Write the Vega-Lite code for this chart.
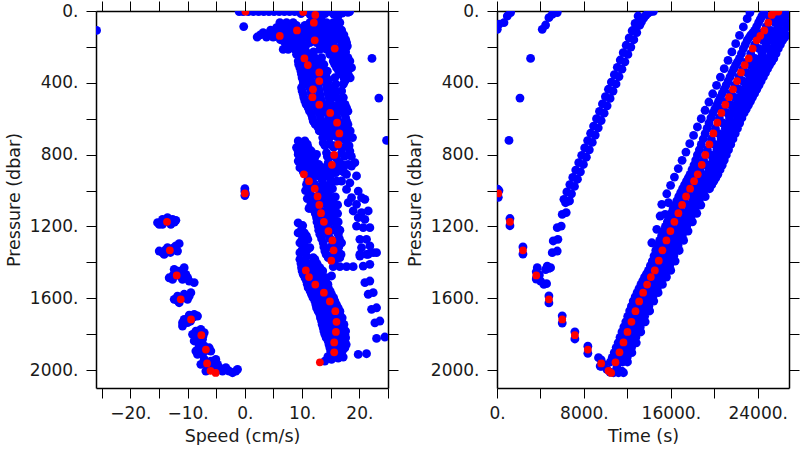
{
"$schema": "https://vega.github.io/schema/vega-lite/v6.json",
"background": "white",
"padding": {"left": 5, "top": 0, "right": 0, "bottom": 0},
"spacing": 109,
"bounds": "flush",
"config": {
 "view": {"stroke": null},
 "axis": {"grid": false, "domainColor": "black", "domainWidth": 1.5, "tickColor": "black", "tickWidth": 1, "tickSize": 10,
  "labelFont": "DejaVu Sans", "labelFontSize": 17, "labelColor": "#1a1a1a", "titleFont": "DejaVu Sans", "titleFontSize": 17.5,
  "titleFontWeight": "normal", "titleColor": "#1a1a1a", "labelFlush": false, "labelOverlap": false, "labelBound": false}
},
"datasets": {
 "red": [
  {"p":1016,"s":0,"t":120},{"p":1174,"s":-13.6,"t":1192},{"p":1333,"s":-13.1,"t":2388},{"p":1473,"s":-11.9,"t":3614},
  {"p":1606,"s":-11.2,"t":4778},{"p":1718,"s":-9.4,"t":6004},{"p":1806,"s":-7.6,"t":7169},{"p":1886,"s":-6.8,"t":8364},
  {"p":1963,"s":-6.6,"t":9590},{"p":2004,"s":-6.0,"t":10264},{"p":2016,"s":-5.1,"t":10509},
  {"p":1957,"s":13.1,"t":10907},{"p":1901,"s":15.6,"t":11275},{"p":1846,"s":15.6,"t":11643},{"p":1788,"s":15.9,"t":12011},
  {"p":1731,"s":16.0,"t":12378},{"p":1672,"s":15.8,"t":12746},{"p":1618,"s":14.85,"t":13085},{"p":1569,"s":13.8,"t":13452},
  {"p":1524,"s":12.3,"t":13820},{"p":1482,"s":11.2,"t":14160},{"p":1445,"s":10.65,"t":14528},{"p":1391,"s":15.1,"t":14896},
  {"p":1333,"s":15.5,"t":15227},{"p":1278,"s":15.3,"t":15595},{"p":1226,"s":14.6,"t":15963},{"p":1174,"s":13.8,"t":16330},
  {"p":1126,"s":13.3,"t":16698},{"p":1080,"s":13.0,"t":17038},{"p":1033,"s":12.7,"t":17406},{"p":990,"s":12.2,"t":17774},
  {"p":948,"s":11.2,"t":18142},{"p":910,"s":10.3,"t":18482},{"p":857,"s":15.2,"t":18850},{"p":802,"s":15.6,"t":19182},
  {"p":743,"s":16.3,"t":19550},{"p":682,"s":16.5,"t":19918},{"p":622,"s":16.1,"t":20285},{"p":568,"s":14.9,"t":20653},
  {"p":522,"s":13.0,"t":21021},{"p":480,"s":11.8,"t":21361},{"p":436,"s":11.9,"t":21729},{"p":390,"s":13.0,"t":22096},
  {"p":342,"s":13.0,"t":22464},{"p":301,"s":11.0,"t":22804},{"p":264,"s":10.4,"t":23172},{"p":209,"s":15.7,"t":23540},
  {"p":163,"s":12.2,"t":23907},{"p":139,"s":6.1,"t":24238},{"p":108,"s":9.1,"t":24606},{"p":65,"s":12.05,"t":24974},
  {"p":22,"s":12.3,"t":25286},{"p":5,"s":10.2,"t":25525},{"p":3,"s":0.1,"t":25900}
 ],
 "blueL": [
  {"s":-1.0,"p":3},{"s":-0.3,"p":3},{"s":0.6,"p":3},{"s":1.5,"p":3},{"s":2.4,"p":3},{"s":3.3,"p":3},{"s":4.2,"p":3},{"s":5.1,"p":3},
  {"s":6.0,"p":3},{"s":6.9,"p":3},{"s":7.8,"p":3},{"s":8.7,"p":3},{"s":9.6,"p":3},{"s":10.5,"p":3},{"s":11.4,"p":3},{"s":12.3,"p":3},
  {"s":13.2,"p":3},{"s":14.1,"p":3},{"s":15.0,"p":3},{"s":15.9,"p":3},{"s":16.8,"p":3},{"s":17.6,"p":3},{"s":18.3,"p":3},
  {"s":11.4,"p":20},{"s":12.8,"p":25},{"s":11.9,"p":42},{"s":14.0,"p":15},{"s":15.5,"p":18},{"s":17.0,"p":12},{"s":18.0,"p":8},
  {"s":13.3,"p":40},{"s":16.2,"p":35},{"s":9.8,"p":15},
  {"s":-0.2,"p":87},{"s":-25.9,"p":108},{"s":22.2,"p":264},{"s":23.4,"p":485},{"s":24.75,"p":721},
  {"s":0,"p":990},{"s":0,"p":1005},{"s":0,"p":1028},{"s":0.1,"p":1018},
  {"s":6.11,"p":65},{"s":7.28,"p":65},{"s":8.44,"p":65},{"s":11.35,"p":65},{"s":12.52,"p":65},{"s":14.26,"p":65},{"s":15.43,"p":65},{"s":16.59,"p":65},
  {"s":5.53,"p":93},{"s":6.70,"p":93},{"s":7.86,"p":93},{"s":9.02,"p":93},{"s":10.19,"p":93},{"s":11.35,"p":93},{"s":12.81,"p":93},{"s":13.97,"p":93},{"s":14.85,"p":93},{"s":16.01,"p":93},
  {"s":3.2,"p":121},{"s":4.37,"p":121},{"s":5.82,"p":121},{"s":6.99,"p":121},{"s":8.15,"p":121},{"s":9.32,"p":121},{"s":10.48,"p":121},{"s":11.94,"p":121},{"s":13.10,"p":121},{"s":14.26,"p":121},{"s":15.14,"p":121},{"s":16.59,"p":121},
  {"s":2.15,"p":145},{"s":3.78,"p":145},{"s":4.95,"p":145},{"s":6.70,"p":145},{"s":7.86,"p":145},{"s":9.02,"p":145},{"s":10.77,"p":145},{"s":11.94,"p":145},{"s":13.39,"p":145},{"s":14.85,"p":145},{"s":16.01,"p":145},{"s":17.18,"p":145},
  {"s":6.99,"p":176},{"s":8.15,"p":176},{"s":9.32,"p":176},{"s":11.35,"p":176},{"s":12.52,"p":176},{"s":14.26,"p":176},{"s":15.43,"p":176},{"s":16.89,"p":176},{"s":17.76,"p":176},
  {"s":6.70,"p":214},{"s":7.57,"p":214},{"s":8.73,"p":214},{"s":9.90,"p":214},{"s":13.10,"p":214},{"s":14.26,"p":214},{"s":16.01,"p":214},{"s":17.47,"p":214},
  {"s":9.02,"p":241},{"s":10.19,"p":241},{"s":11.35,"p":241},{"s":14.85,"p":241},{"s":16.01,"p":241},{"s":17.18,"p":241},
  {"s":9.32,"p":279},{"s":10.48,"p":279},{"s":11.64,"p":279},{"s":12.81,"p":279},{"s":15.43,"p":279},{"s":16.59,"p":279},{"s":17.76,"p":279},{"s":18.34,"p":279},
  {"s":9.61,"p":316},{"s":10.77,"p":316},{"s":12.23,"p":316},{"s":13.39,"p":316},{"s":16.01,"p":316},{"s":17.47,"p":316},{"s":18.63,"p":316},
  {"s":9.90,"p":353},{"s":11.06,"p":353},{"s":12.52,"p":353},{"s":13.97,"p":353},{"s":16.89,"p":353},{"s":18.05,"p":353},
  {"s":10.19,"p":390},{"s":11.64,"p":390},{"s":13.10,"p":390},{"s":14.56,"p":390},{"s":17.47,"p":390},
  {"s":9.90,"p":427},{"s":11.35,"p":427},{"s":12.81,"p":427},{"s":14.26,"p":427},{"s":15.43,"p":427},
  {"s":10.19,"p":464},{"s":11.64,"p":464},{"s":13.10,"p":464},{"s":14.56,"p":464},{"s":15.72,"p":464},
  {"s":10.48,"p":501},{"s":11.94,"p":501},{"s":13.39,"p":501},{"s":14.85,"p":501},{"s":16.59,"p":501},
  {"s":11.06,"p":539},{"s":12.52,"p":539},{"s":13.97,"p":539},{"s":15.43,"p":539},{"s":16.59,"p":539},{"s":17.76,"p":539},
  {"s":11.64,"p":576},{"s":13.10,"p":576},{"s":14.56,"p":576},{"s":16.01,"p":576},{"s":17.47,"p":576},
  {"s":11.94,"p":613},{"s":13.39,"p":613},{"s":14.85,"p":613},{"s":16.30,"p":613},{"s":17.76,"p":613},
  {"s":12.81,"p":650},{"s":14.26,"p":650},{"s":15.72,"p":650},{"s":17.18,"p":650},
  {"s":6.7,"p":80},{"s":7.9,"p":80},{"s":9.0,"p":80},{"s":10.5,"p":80},{"s":11.9,"p":80},{"s":13.4,"p":80},{"s":14.8,"p":80},{"s":16.0,"p":80},
  {"s":4.5,"p":107},{"s":6.1,"p":107},{"s":7.3,"p":107},{"s":8.5,"p":107},{"s":9.6,"p":107},{"s":10.8,"p":107},{"s":12.1,"p":107},{"s":13.4,"p":107},{"s":14.5,"p":107},{"s":15.6,"p":107},{"s":16.9,"p":107},
  {"s":2.7,"p":133},{"s":4.0,"p":133},{"s":5.3,"p":133},{"s":6.4,"p":133},{"s":7.5,"p":133},{"s":8.7,"p":133},{"s":9.9,"p":133},{"s":11.2,"p":133},{"s":12.5,"p":133},{"s":13.7,"p":133},{"s":14.8,"p":133},{"s":16.0,"p":133},{"s":17.3,"p":133},
  {"s":6.2,"p":160},{"s":7.4,"p":160},{"s":8.6,"p":160},{"s":10.0,"p":160},{"s":11.6,"p":160},{"s":13.0,"p":160},{"s":14.0,"p":160},{"s":15.5,"p":160},{"s":16.6,"p":160},{"s":17.6,"p":160},
  {"s":7.3,"p":195},{"s":8.2,"p":195},{"s":9.5,"p":195},{"s":10.6,"p":195},{"s":13.5,"p":195},{"s":15.0,"p":195},{"s":16.8,"p":195},{"s":17.9,"p":195},
  {"s":9.5,"p":228},{"s":10.7,"p":228},{"s":12.0,"p":228},{"s":15.3,"p":228},{"s":16.6,"p":228},{"s":17.6,"p":228},
  {"s":9.6,"p":260},{"s":10.9,"p":260},{"s":12.2,"p":260},{"s":13.4,"p":260},{"s":15.9,"p":260},{"s":17.0,"p":260},{"s":18.0,"p":260},
  {"s":9.4,"p":298},{"s":11.1,"p":298},{"s":12.6,"p":298},{"s":13.8,"p":298},{"s":15.7,"p":298},{"s":16.9,"p":298},{"s":18.1,"p":298},
  {"s":9.8,"p":335},{"s":11.4,"p":335},{"s":12.9,"p":335},{"s":14.4,"p":335},{"s":16.4,"p":335},{"s":17.8,"p":335},
  {"s":10.0,"p":372},{"s":11.3,"p":372},{"s":12.9,"p":372},{"s":14.3,"p":372},{"s":15.7,"p":372},{"s":17.3,"p":372},{"s":18.4,"p":372},
  {"s":10.2,"p":408},{"s":11.5,"p":408},{"s":12.9,"p":408},{"s":14.4,"p":408},{"s":15.9,"p":408},{"s":17.2,"p":408},
  {"s":10.0,"p":445},{"s":11.5,"p":445},{"s":13.0,"p":445},{"s":14.5,"p":445},{"s":15.8,"p":445},{"s":16.9,"p":445},
  {"s":10.3,"p":482},{"s":11.8,"p":482},{"s":13.2,"p":482},{"s":14.7,"p":482},{"s":16.1,"p":482},{"s":17.2,"p":482},
  {"s":10.7,"p":520},{"s":12.2,"p":520},{"s":13.7,"p":520},{"s":15.1,"p":520},{"s":16.4,"p":520},{"s":17.5,"p":520},
  {"s":11.3,"p":558},{"s":12.8,"p":558},{"s":14.2,"p":558},{"s":15.7,"p":558},{"s":17.0,"p":558},{"s":18.0,"p":558},
  {"s":11.8,"p":595},{"s":13.2,"p":595},{"s":14.7,"p":595},{"s":16.1,"p":595},{"s":17.6,"p":595},
  {"s":12.3,"p":632},{"s":13.8,"p":632},{"s":15.3,"p":632},{"s":16.8,"p":632},{"s":18.0,"p":632},
  {"s":13.0,"p":668},{"s":14.4,"p":668},{"s":15.9,"p":668},{"s":17.4,"p":668},{"s":18.4,"p":668},
  {"s":13.6,"p":705},{"s":14.8,"p":705},{"s":16.6,"p":705},{"s":17.8,"p":705},{"s":18.8,"p":705},
  {"s":14.0,"p":750},{"s":15.6,"p":750},{"s":16.4,"p":750},{"s":18.2,"p":750},
  {"s":14.4,"p":810},{"s":15.0,"p":810},{"s":17.4,"p":810},{"s":18.6,"p":810},
  {"s":15.0,"p":860},{"s":16.0,"p":860},{"s":17.4,"p":860},{"s":15.9,"p":900},{"s":17.4,"p":900},
  {"s":13.68,"p":622},{"s":14.85,"p":631},{"s":17.47,"p":631},{"s":13.97,"p":678},{"s":15.14,"p":687},{"s":17.76,"p":687},
  {"s":13.68,"p":734},{"s":14.85,"p":743},{"s":17.76,"p":734},{"s":14.26,"p":790},{"s":16.89,"p":790},{"s":18.34,"p":780},
  {"s":14.56,"p":845},{"s":16.59,"p":845},{"s":18.05,"p":854},{"s":15.43,"p":891},{"s":16.89,"p":891},
  {"s":16.0,"p":700},{"s":15.5,"p":760},{"s":16.0,"p":820},{"s":15.6,"p":880},{"s":15.2,"p":905},{"s":17.3,"p":712},{"s":17.0,"p":765},
  {"s":18.63,"p":864},{"s":19.21,"p":845},{"s":17.76,"p":910},{"s":19.5,"p":919},{"s":16.01,"p":947},{"s":16.89,"p":947},{"s":18.34,"p":957},
  {"s":17.76,"p":994},{"s":19.8,"p":1003},{"s":18.63,"p":1040},{"s":20.38,"p":1040},{"s":18.05,"p":1068},{"s":19.5,"p":1077},{"s":20.96,"p":1049},
  {"s":18.92,"p":1114},{"s":20.38,"p":1123},{"s":21.54,"p":1114},{"s":19.8,"p":1151},{"s":20.96,"p":1161},{"s":19.5,"p":1198},{"s":20.67,"p":1207},
  {"s":21.83,"p":1207},{"s":20.09,"p":1272},{"s":21.25,"p":1272},{"s":20.38,"p":1318},{"s":21.83,"p":1309},{"s":20.09,"p":1355},{"s":21.54,"p":1355},{"s":23.0,"p":1346},
  {"s":9.32,"p":724},{"s":10.48,"p":724},{"s":9.02,"p":761},{"s":10.19,"p":761},{"s":11.06,"p":761},
  {"s":9.32,"p":799},{"s":10.48,"p":799},{"s":11.64,"p":799},{"s":12.52,"p":799},{"s":9.32,"p":836},{"s":10.77,"p":836},{"s":11.94,"p":836},
  {"s":9.61,"p":873},{"s":11.06,"p":873},{"s":12.52,"p":873},{"s":13.68,"p":873},{"s":11.35,"p":919},{"s":12.81,"p":919},{"s":14.26,"p":919},
  {"s":10.77,"p":966},{"s":12.23,"p":966},{"s":13.68,"p":966},{"s":14.85,"p":966},{"s":10.6,"p":1000},{"s":11.35,"p":1012},{"s":13.10,"p":1012},{"s":14.56,"p":1012},
  {"s":10.9,"p":1045},{"s":11.64,"p":1058},{"s":12.8,"p":1058},{"s":13.97,"p":1058},{"s":15.14,"p":1058},{"s":11.2,"p":1100},{"s":11.94,"p":1105},{"s":13.10,"p":1105},{"s":14.56,"p":1105},{"s":15.72,"p":1105},
  {"s":12.52,"p":1151},{"s":13.97,"p":1151},{"s":15.43,"p":1151},{"s":12.81,"p":1198},{"s":14.26,"p":1198},{"s":16.01,"p":1198},
  {"s":13.10,"p":1244},{"s":14.56,"p":1244},{"s":16.30,"p":1244},{"s":13.68,"p":1291},{"s":16.01,"p":1291},{"s":16.89,"p":1291},
  {"s":13.97,"p":1337},{"s":16.30,"p":1337},{"s":14.56,"p":1374},{"s":16.59,"p":1374},
  {"s":9.6,"p":742},{"s":10.9,"p":742},{"s":9.3,"p":780},{"s":10.6,"p":780},{"s":11.6,"p":780},{"s":9.8,"p":818},{"s":11.2,"p":818},{"s":12.2,"p":818},
  {"s":10.2,"p":855},{"s":11.5,"p":855},{"s":12.9,"p":855},{"s":10.2,"p":896},{"s":11.8,"p":896},{"s":13.4,"p":896},{"s":14.4,"p":896},
  {"s":11.0,"p":942},{"s":11.8,"p":942},{"s":13.5,"p":942},{"s":15.0,"p":942},{"s":11.5,"p":990},{"s":12.8,"p":990},{"s":14.2,"p":990},{"s":15.3,"p":990},
  {"s":11.9,"p":1035},{"s":13.5,"p":1035},{"s":14.9,"p":1035},{"s":15.8,"p":1035},{"s":11.5,"p":1080},{"s":12.4,"p":1080},{"s":14.3,"p":1080},{"s":15.5,"p":1080},{"s":16.2,"p":1080},
  {"s":12.3,"p":1128},{"s":13.5,"p":1128},{"s":14.9,"p":1128},{"s":16.2,"p":1128},{"s":12.6,"p":1175},{"s":13.7,"p":1175},{"s":15.0,"p":1175},{"s":16.3,"p":1175},
  {"s":12.9,"p":1221},{"s":13.7,"p":1221},{"s":15.3,"p":1221},{"s":16.6,"p":1221},{"s":13.4,"p":1268},{"s":14.9,"p":1268},{"s":16.5,"p":1268},
  {"s":13.8,"p":1314},{"s":15.0,"p":1314},{"s":16.4,"p":1314},{"s":14.2,"p":1356},{"s":15.5,"p":1356},{"s":16.8,"p":1356},
  {"s":9.90,"p":1216},{"s":10.77,"p":1253},{"s":9.61,"p":1291},{"s":10.48,"p":1309},{"s":11.35,"p":1318},{"s":9.61,"p":1346},{"s":10.77,"p":1365},
  {"s":11.94,"p":1374},{"s":10.19,"p":1402},{"s":11.35,"p":1411},{"s":12.52,"p":1421},{"s":9.3,"p":1180},{"s":10.1,"p":1195},
  {"s":9.3,"p":1236},{"s":10.4,"p":1236},{"s":10.0,"p":1272},{"s":11.0,"p":1272},{"s":10.0,"p":1330},{"s":10.9,"p":1330},
  {"s":9.61,"p":1383},{"s":12.23,"p":1383},{"s":9.90,"p":1430},{"s":11.64,"p":1430},{"s":13.10,"p":1430},
  {"s":10.19,"p":1467},{"s":12.23,"p":1467},{"s":13.39,"p":1467},{"s":10.77,"p":1504},{"s":12.52,"p":1504},{"s":13.97,"p":1504},
  {"s":11.06,"p":1541},{"s":13.10,"p":1541},{"s":14.56,"p":1541},{"s":11.64,"p":1578},{"s":13.39,"p":1578},{"s":15.14,"p":1578},
  {"s":12.23,"p":1616},{"s":13.97,"p":1616},{"s":15.72,"p":1616},{"s":12.52,"p":1653},{"s":14.56,"p":1653},{"s":16.30,"p":1653},
  {"s":13.10,"p":1690},{"s":14.85,"p":1690},{"s":16.59,"p":1690},{"s":13.39,"p":1727},{"s":15.14,"p":1727},{"s":16.89,"p":1727},
  {"s":13.68,"p":1764},{"s":15.43,"p":1764},{"s":17.18,"p":1764},{"s":13.97,"p":1801},{"s":15.72,"p":1801},{"s":17.47,"p":1801},
  {"s":14.56,"p":1839},{"s":16.01,"p":1839},{"s":17.47,"p":1839},{"s":14.85,"p":1876},{"s":16.30,"p":1876},{"s":17.47,"p":1876},
  {"s":15.14,"p":1913},{"s":16.89,"p":1913},{"s":13.97,"p":1950},{"s":15.14,"p":1941},{"s":16.30,"p":1934},{"s":17.18,"p":1928},
  {"s":9.8,"p":1407},{"s":11.0,"p":1407},{"s":12.6,"p":1407},{"s":10.0,"p":1448},{"s":11.0,"p":1448},{"s":12.6,"p":1448},{"s":13.6,"p":1448},
  {"s":10.5,"p":1486},{"s":11.6,"p":1486},{"s":12.9,"p":1486},{"s":14.2,"p":1486},{"s":10.9,"p":1522},{"s":11.9,"p":1522},{"s":13.5,"p":1522},{"s":14.5,"p":1522},
  {"s":11.4,"p":1560},{"s":12.3,"p":1560},{"s":13.9,"p":1560},{"s":14.9,"p":1560},{"s":11.9,"p":1597},{"s":12.9,"p":1597},{"s":14.6,"p":1597},{"s":15.5,"p":1597},
  {"s":12.4,"p":1635},{"s":13.3,"p":1635},{"s":15.2,"p":1635},{"s":16.0,"p":1635},{"s":12.8,"p":1672},{"s":13.8,"p":1672},{"s":15.6,"p":1672},{"s":16.6,"p":1672},
  {"s":13.2,"p":1709},{"s":14.2,"p":1709},{"s":16.0,"p":1709},{"s":17.0,"p":1709},{"s":13.5,"p":1746},{"s":14.6,"p":1746},{"s":16.3,"p":1746},{"s":17.3,"p":1746},
  {"s":13.8,"p":1783},{"s":14.8,"p":1783},{"s":16.6,"p":1783},{"s":17.6,"p":1783},{"s":14.2,"p":1820},{"s":15.0,"p":1820},{"s":16.8,"p":1820},{"s":17.6,"p":1820},
  {"s":14.7,"p":1858},{"s":15.5,"p":1858},{"s":16.9,"p":1858},{"s":17.7,"p":1858},{"s":15.0,"p":1895},{"s":16.0,"p":1895},{"s":17.0,"p":1895},
  {"s":14.5,"p":1925},{"s":15.7,"p":1925},{"s":16.5,"p":1925},
  {"s":14.56,"p":1365},{"s":16.30,"p":1374},{"s":15.72,"p":1411},{"s":15.43,"p":1424},{"s":16.59,"p":1424},{"s":17.76,"p":1424},{"s":18.92,"p":1424},{"s":15.14,"p":1476},
  {"s":20.09,"p":1365},{"s":21.25,"p":1356},{"s":22.42,"p":1346},{"s":20.67,"p":1421},{"s":21.83,"p":1411},{"s":20.96,"p":1513},{"s":21.83,"p":1504},
  {"s":21.54,"p":1578},{"s":22.42,"p":1569},{"s":22.13,"p":1662},{"s":23.0,"p":1653},{"s":22.71,"p":1737},{"s":23.58,"p":1727},
  {"s":23.0,"p":1824},{"s":24.45,"p":1816},{"s":19.8,"p":1913},{"s":21.25,"p":1909},
  {"s":-14.96,"p":1188},{"s":-14.38,"p":1161},{"s":-13.51,"p":1151},{"s":-12.63,"p":1161},{"s":-12.05,"p":1166},{"s":-14.38,"p":1188},{"s":-12.93,"p":1188},{"s":-15.25,"p":1179},
  {"s":-13.0,"p":1170},{"s":-14.0,"p":1175},{"s":-12.3,"p":1176},
  {"s":-14.96,"p":1337},{"s":-14.38,"p":1346},{"s":-13.51,"p":1318},{"s":-12.63,"p":1328},{"s":-12.05,"p":1309},{"s":-11.47,"p":1296},{"s":-11.76,"p":1337},{"s":-14.09,"p":1356},
  {"s":-13.9,"p":1332},{"s":-12.4,"p":1318},{"s":-13.0,"p":1345},
  {"s":-13.22,"p":1486},{"s":-12.34,"p":1439},{"s":-11.47,"p":1449},{"s":-10.60,"p":1430},{"s":-10.31,"p":1467},{"s":-10.89,"p":1495},{"s":-9.72,"p":1504},{"s":-8.85,"p":1513},{"s":-12.63,"p":1495},
  {"s":-12.0,"p":1460},{"s":-11.2,"p":1480},{"s":-10.0,"p":1485},{"s":-12.5,"p":1470},
  {"s":-12.34,"p":1606},{"s":-11.76,"p":1588},{"s":-10.60,"p":1578},{"s":-9.72,"p":1588},{"s":-10.01,"p":1606},{"s":-11.47,"p":1625},{"s":-9.43,"p":1569},
  {"s":-11.0,"p":1598},{"s":-10.2,"p":1595},{"s":-11.8,"p":1612},
  {"s":-10.89,"p":1736},{"s":-10.60,"p":1718},{"s":-9.72,"p":1694},{"s":-8.85,"p":1690},{"s":-8.27,"p":1699},{"s":-10.01,"p":1736},{"s":-10.89,"p":1755},
  {"s":-9.9,"p":1712},{"s":-9.0,"p":1705},{"s":-9.5,"p":1728},
  {"s":-9.14,"p":1801},{"s":-8.56,"p":1783},{"s":-7.69,"p":1773},{"s":-7.10,"p":1792},{"s":-8.56,"p":1829},{"s":-8.85,"p":1838},{"s":-7.39,"p":1829},
  {"s":-8.0,"p":1800},{"s":-7.3,"p":1810},{"s":-8.3,"p":1815},
  {"s":-8.56,"p":1894},{"s":-7.98,"p":1866},{"s":-7.10,"p":1866},{"s":-6.23,"p":1876},{"s":-5.94,"p":1894},{"s":-8.27,"p":1913},{"s":-7.39,"p":1913},
  {"s":-7.2,"p":1885},{"s":-6.5,"p":1890},{"s":-7.7,"p":1897},
  {"s":-7.69,"p":1968},{"s":-7.10,"p":1941},{"s":-5.94,"p":1950},{"s":-5.07,"p":1941},{"s":-4.77,"p":1968},{"s":-4.48,"p":1987},{"s":-3.32,"p":1987},
  {"s":-2.74,"p":2006},{"s":-1.57,"p":2006},{"s":-1.28,"p":1996},{"s":-6.23,"p":1996},{"s":-5.07,"p":2006},{"s":-3.90,"p":2006},{"s":-2.15,"p":2015},{"s":-6.81,"p":2006},
  {"s":-6.5,"p":1975},{"s":-5.5,"p":1985},{"s":-4.0,"p":1998},{"s":-3.0,"p":2000}
 ],
 "blueR": [
  {"t":28,"p":102},{"t":181,"p":74},{"t":641,"p":65},{"t":947,"p":28},{"t":1254,"p":9},{"t":4165,"p":102},{"t":4472,"p":78},{"t":4778,"p":37},
  {"t":5085,"p":19},{"t":5545,"p":9},{"t":3092,"p":264},{"t":2115,"p":485},{"t":1103,"p":721},
  {"t":60,"p":992},{"t":180,"p":1000},{"t":120,"p":1038},{"t":1192,"p":1156},{"t":1192,"p":1196},{"t":2388,"p":1314},{"t":2388,"p":1354},
  {"t":3614,"p":1453},{"t":3614,"p":1493},{"t":4778,"p":1587},{"t":4778,"p":1626},{"t":6004,"p":1698},{"t":6004,"p":1738},
  {"t":7169,"p":1787},{"t":7169,"p":1827},{"t":8364,"p":1867},{"t":8364,"p":1907},{"t":9590,"p":1944},{"t":9590,"p":1980},
  {"t":3706,"p":1430},{"t":3644,"p":1486},{"t":4012,"p":1504},{"t":4319,"p":1523},{"t":4564,"p":1519},{"t":4778,"p":1434},{"t":4472,"p":1440},{"t":3900,"p":1470},
  {"t":4625,"p":1421},{"t":4932,"p":1430},{"t":5085,"p":1346},{"t":5545,"p":1337},{"t":5177,"p":1281},{"t":5606,"p":1272},
  {"t":5545,"p":1207},{"t":5913,"p":1198},{"t":6004,"p":1133},{"t":6372,"p":1123},{"t":6311,"p":1068},{"t":6678,"p":1058},
  {"t":6158,"p":1049},{"t":6430,"p":1008},{"t":6703,"p":967},{"t":6976,"p":927},{"t":7249,"p":886},{"t":7525,"p":845},{"t":7797,"p":804},
  {"t":8070,"p":763},{"t":8343,"p":722},{"t":8616,"p":681},{"t":8889,"p":641},{"t":9161,"p":600},{"t":9434,"p":559},{"t":9707,"p":518},
  {"t":9980,"p":477},{"t":10256,"p":436},{"t":10528,"p":396},{"t":10801,"p":355},{"t":11074,"p":314},{"t":11347,"p":273},{"t":11620,"p":232},
  {"t":11892,"p":191},{"t":12165,"p":150},{"t":12438,"p":110},{"t":12711,"p":69},{"t":12987,"p":28},
  {"t":6588,"p":1059},{"t":6860,"p":1018},{"t":7133,"p":977},{"t":7406,"p":937},{"t":7679,"p":896},{"t":7955,"p":855},{"t":8227,"p":814},
  {"t":8500,"p":773},{"t":8773,"p":732},{"t":9046,"p":691},{"t":9319,"p":651},{"t":9591,"p":610},{"t":9864,"p":569},{"t":10137,"p":528},
  {"t":10410,"p":487},{"t":10686,"p":446},{"t":10958,"p":406},{"t":11231,"p":365},{"t":11504,"p":324},{"t":11777,"p":283},{"t":12050,"p":242},
  {"t":12322,"p":201},{"t":12595,"p":160},{"t":12868,"p":120},{"t":13141,"p":79},{"t":13417,"p":38},
  {"t":13300,"p":60},{"t":13500,"p":40},{"t":13700,"p":25},{"t":13900,"p":12},{"t":14150,"p":4},{"t":14400,"p":2},{"t":12700,"p":100},{"t":13050,"p":80},
  {"t":9345,"p":1931},{"t":9498,"p":1978},{"t":9805,"p":1968},{"t":10111,"p":1996},{"t":10724,"p":2015},{"t":11184,"p":2015},{"t":11490,"p":2006},
  {"t":11644,"p":2015},{"t":11031,"p":1987},{"t":10400,"p":2012},
  {"t":15629,"p":1018},{"t":15981,"p":971},{"t":16333,"p":925},{"t":16686,"p":878},{"t":17038,"p":832},{"t":17391,"p":786},{"t":17743,"p":739},
  {"t":18096,"p":693},{"t":18448,"p":646},{"t":18801,"p":600},{"t":19153,"p":553},{"t":19506,"p":507},{"t":19858,"p":461},{"t":20210,"p":414},
  {"t":20563,"p":368},{"t":20915,"p":321},{"t":21268,"p":275},{"t":21620,"p":228},{"t":21973,"p":182},{"t":22325,"p":136},{"t":22678,"p":89},
  {"t":23030,"p":43},{"t":23285,"p":9},
  {"t":15781,"p":1068},{"t":15168,"p":1077},{"t":15475,"p":1133},{"t":15015,"p":1142},{"t":14709,"p":1216},{"t":14249,"p":1291},
  {"t":10437,"p":1955},{"t":11238,"p":1955},{"t":11568,"p":1955},{"t":12009,"p":1955},
  {"t":10793,"p":1903},{"t":11617,"p":1903},{"t":11958,"p":1903},{"t":12414,"p":1903},
  {"t":11149,"p":1848},{"t":11997,"p":1848},{"t":12350,"p":1848},{"t":12822,"p":1848},
  {"t":11503,"p":1788},{"t":12378,"p":1788},{"t":12744,"p":1788},{"t":13233,"p":1788},
  {"t":11857,"p":1731},{"t":12757,"p":1731},{"t":13135,"p":1731},{"t":13640,"p":1731},
  {"t":12212,"p":1671},{"t":13138,"p":1671},{"t":13529,"p":1671},{"t":14051,"p":1671},
  {"t":12539,"p":1616},{"t":13489,"p":1616},{"t":13892,"p":1616},{"t":14430,"p":1616},
  {"t":12895,"p":1569},{"t":13865,"p":1569},{"t":14279,"p":1569},{"t":14830,"p":1569},
  {"t":13253,"p":1523},{"t":14243,"p":1523},{"t":14667,"p":1523},{"t":15231,"p":1523},
  {"t":13583,"p":1482},{"t":14592,"p":1482},{"t":15024,"p":1482},{"t":15600,"p":1482},
  {"t":13943,"p":1445},{"t":14968,"p":1445},{"t":15408,"p":1445},{"t":15995,"p":1445},
  {"t":14299,"p":1393},{"t":15347,"p":1393},{"t":15798,"p":1393},{"t":16400,"p":1393},
  {"t":14617,"p":1334},{"t":15691,"p":1334},{"t":16155,"p":1334},{"t":16773,"p":1334},
  {"t":14973,"p":1278},{"t":16071,"p":1278},{"t":16547,"p":1278},{"t":17181,"p":1278},
  {"t":15329,"p":1226},{"t":16450,"p":1226},{"t":16937,"p":1226},{"t":17586,"p":1226},
  {"t":15684,"p":1174},{"t":16828,"p":1174},{"t":17327,"p":1174},{"t":17991,"p":1174},
  {"t":16042,"p":1127},{"t":17206,"p":1127},{"t":17714,"p":1127},{"t":18392,"p":1127},
  {"t":16371,"p":1081},{"t":17556,"p":1081},{"t":18074,"p":1081},{"t":18765,"p":1081},
  {"t":16729,"p":1034},{"t":17934,"p":1034},{"t":18463,"p":1034},{"t":19167,"p":1034},
  {"t":17087,"p":990},{"t":18222,"p":990},{"t":18670,"p":990},{"t":19118,"p":990},{"t":19566,"p":990},
  {"t":17445,"p":947},{"t":18598,"p":947},{"t":19054,"p":947},{"t":19509,"p":947},{"t":19965,"p":947},
  {"t":17777,"p":910},{"t":18944,"p":910},{"t":19407,"p":910},{"t":19869,"p":910},{"t":20331,"p":910},
  {"t":18133,"p":858},{"t":19322,"p":858},{"t":19794,"p":858},{"t":20265,"p":858},{"t":20737,"p":858},
  {"t":18452,"p":802},{"t":19664,"p":802},{"t":20146,"p":802},{"t":20627,"p":802},{"t":21109,"p":802},
  {"t":18807,"p":743},{"t":20042,"p":743},{"t":20535,"p":743},{"t":21027,"p":743},{"t":21519,"p":743},
  {"t":19162,"p":683},{"t":20421,"p":683},{"t":20924,"p":683},{"t":21427,"p":683},{"t":21930,"p":683},
  {"t":19515,"p":624},{"t":20799,"p":624},{"t":21312,"p":624},{"t":21826,"p":624},{"t":22339,"p":624},
  {"t":19871,"p":568},{"t":21177,"p":568},{"t":21700,"p":568},{"t":22224,"p":568},{"t":22747,"p":568},
  {"t":20229,"p":524},{"t":21552,"p":524},{"t":22084,"p":524},{"t":22615,"p":524},{"t":23146,"p":524},
  {"t":20559,"p":481},{"t":21900,"p":481},{"t":22439,"p":481},{"t":22978,"p":481},{"t":23517,"p":481},
  {"t":20917,"p":436},{"t":22276,"p":436},{"t":22823,"p":436},{"t":23370,"p":436},{"t":23917,"p":436},
  {"t":21274,"p":390},{"t":22651,"p":390},{"t":23207,"p":390},{"t":23762,"p":390},{"t":24317,"p":390},
  {"t":21631,"p":344},{"t":23028,"p":344},{"t":23591,"p":344},{"t":24155,"p":344},{"t":24718,"p":344},
  {"t":21962,"p":301},{"t":23375,"p":301},{"t":23947,"p":301},{"t":24518,"p":301},{"t":25089,"p":301},
  {"t":22321,"p":264},{"t":23750,"p":264},{"t":24328,"p":264},{"t":24905,"p":264},{"t":25483,"p":264},
  {"t":22677,"p":210},{"t":24128,"p":210},{"t":24715,"p":210},{"t":25303,"p":210},{"t":25890,"p":210},
  {"t":23034,"p":163},{"t":24503,"p":163},{"t":25099,"p":163},{"t":25694,"p":163},{"t":26290,"p":163},
  {"t":23358,"p":135},{"t":24839,"p":135},{"t":25440,"p":135},{"t":26040,"p":135},{"t":26641,"p":135},
  {"t":23720,"p":108},{"t":25212,"p":108},{"t":25818,"p":108},{"t":26423,"p":108},
  {"t":24079,"p":65},{"t":25588,"p":65},{"t":26201,"p":65},{"t":26815,"p":65},
  {"t":24382,"p":28},{"t":25906,"p":28},{"t":26526,"p":28},
  {"t":24618,"p":15},{"t":26145,"p":15},{"t":26760,"p":15},
  {"t":10615,"p":1929},{"t":11091,"p":1929},{"t":11595,"p":1929},{"t":11987,"p":1929},
  {"t":10971,"p":1875},{"t":11459,"p":1875},{"t":11981,"p":1875},{"t":12386,"p":1875},
  {"t":11326,"p":1818},{"t":11827,"p":1818},{"t":12367,"p":1818},{"t":12787,"p":1818},
  {"t":11681,"p":1760},{"t":12195,"p":1760},{"t":12754,"p":1760},{"t":13189,"p":1760},
  {"t":12034,"p":1701},{"t":12562,"p":1701},{"t":13140,"p":1701},{"t":13590,"p":1701},
  {"t":12376,"p":1644},{"t":12916,"p":1644},{"t":13512,"p":1644},{"t":13976,"p":1644},
  {"t":12717,"p":1593},{"t":13269,"p":1593},{"t":13881,"p":1593},{"t":14358,"p":1593},
  {"t":13074,"p":1546},{"t":13636,"p":1546},{"t":14264,"p":1546},{"t":14752,"p":1546},
  {"t":13418,"p":1503},{"t":13990,"p":1503},{"t":14632,"p":1503},{"t":15131,"p":1503},
  {"t":13763,"p":1464},{"t":14344,"p":1464},{"t":14998,"p":1464},{"t":15506,"p":1464},
  {"t":14121,"p":1419},{"t":14712,"p":1419},{"t":15380,"p":1419},{"t":15900,"p":1419},
  {"t":14459,"p":1364},{"t":15062,"p":1364},{"t":15748,"p":1364},{"t":16282,"p":1364},
  {"t":14795,"p":1306},{"t":15411,"p":1306},{"t":16116,"p":1306},{"t":16664,"p":1306},
  {"t":15151,"p":1252},{"t":15779,"p":1252},{"t":16501,"p":1252},{"t":17063,"p":1252},
  {"t":15507,"p":1200},{"t":16147,"p":1200},{"t":16886,"p":1200},{"t":17461,"p":1200},
  {"t":15863,"p":1151},{"t":16514,"p":1151},{"t":17269,"p":1151},{"t":17856,"p":1151},
  {"t":16206,"p":1104},{"t":16868,"p":1104},{"t":17638,"p":1104},{"t":18237,"p":1104},
  {"t":16550,"p":1058},{"t":17222,"p":1058},{"t":18007,"p":1058},{"t":18617,"p":1058},
  {"t":16908,"p":1012},{"t":17590,"p":1012},{"t":18389,"p":1012},{"t":19011,"p":1012},
  {"t":17266,"p":969},{"t":17958,"p":969},{"t":18771,"p":969},{"t":19404,"p":969},{"t":19765,"p":969},
  {"t":17611,"p":929},{"t":18312,"p":929},{"t":19138,"p":929},{"t":19781,"p":929},{"t":20148,"p":929},
  {"t":17955,"p":884},{"t":18666,"p":884},{"t":19507,"p":884},{"t":20160,"p":884},{"t":20534,"p":884},
  {"t":18293,"p":830},{"t":19016,"p":830},{"t":19874,"p":830},{"t":20542,"p":830},{"t":20923,"p":830},
  {"t":18630,"p":773},{"t":19366,"p":773},{"t":20242,"p":773},{"t":20924,"p":773},{"t":21313,"p":773},
  {"t":18984,"p":713},{"t":19734,"p":713},{"t":20630,"p":713},{"t":21326,"p":713},{"t":21724,"p":713},
  {"t":19339,"p":654},{"t":20102,"p":654},{"t":21016,"p":654},{"t":21728,"p":654},{"t":22134,"p":654},
  {"t":19693,"p":596},{"t":20469,"p":596},{"t":21402,"p":596},{"t":22128,"p":596},{"t":22543,"p":596},
  {"t":20050,"p":546},{"t":20837,"p":546},{"t":21787,"p":546},{"t":22525,"p":546},{"t":22947,"p":546},
  {"t":20394,"p":503},{"t":21191,"p":503},{"t":22154,"p":503},{"t":22903,"p":503},{"t":23331,"p":503},
  {"t":20738,"p":459},{"t":21545,"p":459},{"t":22522,"p":459},{"t":23283,"p":459},{"t":23717,"p":459},
  {"t":21096,"p":413},{"t":21913,"p":413},{"t":22905,"p":413},{"t":23677,"p":413},{"t":24118,"p":413},
  {"t":21453,"p":367},{"t":22280,"p":367},{"t":23287,"p":367},{"t":24070,"p":367},{"t":24518,"p":367},
  {"t":21797,"p":323},{"t":22634,"p":323},{"t":23655,"p":323},{"t":24449,"p":323},{"t":24903,"p":323},
  {"t":22142,"p":283},{"t":22988,"p":283},{"t":24022,"p":283},{"t":24826,"p":283},{"t":25286,"p":283},
  {"t":22499,"p":237},{"t":23356,"p":237},{"t":24405,"p":237},{"t":25221,"p":237},{"t":25687,"p":237},
  {"t":22856,"p":187},{"t":23724,"p":187},{"t":24789,"p":187},{"t":25617,"p":187},{"t":26090,"p":187},
  {"t":23197,"p":149},{"t":24073,"p":149},{"t":25150,"p":149},{"t":25988,"p":149},{"t":26466,"p":149},
  {"t":23539,"p":122},{"t":24422,"p":122},{"t":25508,"p":122},{"t":26352,"p":122},
  {"t":23900,"p":87},{"t":24790,"p":87},{"t":25887,"p":87},{"t":26740,"p":87},
  {"t":24231,"p":47},{"t":25130,"p":47},{"t":26240,"p":47},
  {"t":24500,"p":22},{"t":25406,"p":22},{"t":26516,"p":22}
 ]
},
"hconcat": [
 {
  "width": 292, "height": 377,
  "layer": [
   {"data": {"name": "blueL"},
    "mark": {"type": "circle", "color": "#0000ff", "size": 78, "opacity": 1, "clip": true},
    "encoding": {
     "x": {"field": "s", "type": "quantitative", "scale": {"domain": [-26, 25], "nice": false, "zero": false},
      "axis": {"orient": "bottom", "values": [-25,-20,-15,-10,-5,0,5,10,15,20,25], "labelExpr": "datum.value % 10 == 0 ? format(datum.value, 'd') + '.' : ''", "labelPadding": 7, "title": "Speed (cm/s)", "titlePadding": 6}},
     "y": {"field": "p", "type": "quantitative", "scale": {"domain": [0, 2100], "reverse": true, "nice": false, "zero": false},
      "axis": {"orient": "left", "values": [0,200,400,600,800,1000,1200,1400,1600,1800,2000], "labelExpr": "datum.value % 400 == 0 ? format(datum.value, 'd') + '.' : ''", "labelPadding": 8, "title": "Pressure (dbar)", "titlePadding": 6}}
    }},
   {"data": {"name": "red"},
    "mark": {"type": "circle", "color": "#ff0000", "size": 60, "opacity": 1, "clip": true},
    "encoding": {
     "x": {"field": "s", "type": "quantitative", "scale": {"domain": [-26, 25], "nice": false, "zero": false},
      "axis": {"orient": "top", "values": [-25,-20,-15,-10,-5,0,5,10,15,20,25], "labels": false, "title": null}},
     "y": {"field": "p", "type": "quantitative", "scale": {"domain": [0, 2100], "reverse": true, "nice": false, "zero": false},
      "axis": {"orient": "right", "values": [0,200,400,600,800,1000,1200,1400,1600,1800,2000], "labels": false, "title": null}}
    }}
  ],
  "resolve": {"axis": {"x": "independent", "y": "independent"}}
 },
 {
  "width": 292, "height": 377,
  "layer": [
   {"data": {"name": "blueR"},
    "mark": {"type": "circle", "color": "#0000ff", "size": 78, "opacity": 1, "clip": true},
    "encoding": {
     "x": {"field": "t", "type": "quantitative", "scale": {"domain": [0, 26880], "nice": false, "zero": false},
      "axis": {"orient": "bottom", "values": [0,4000,8000,12000,16000,20000,24000], "labelExpr": "datum.value % 8000 == 0 ? format(datum.value, 'd') + '.' : ''", "labelPadding": 7, "title": "Time (s)", "titlePadding": 6}},
     "y": {"field": "p", "type": "quantitative", "scale": {"domain": [0, 2100], "reverse": true, "nice": false, "zero": false},
      "axis": {"orient": "left", "values": [0,200,400,600,800,1000,1200,1400,1600,1800,2000], "labelExpr": "datum.value % 400 == 0 ? format(datum.value, 'd') + '.' : ''", "labelPadding": 8, "title": "Pressure (dbar)", "titlePadding": 6}}
    }},
   {"data": {"name": "red"},
    "mark": {"type": "circle", "color": "#ff0000", "size": 60, "opacity": 1, "clip": true},
    "encoding": {
     "x": {"field": "t", "type": "quantitative", "scale": {"domain": [0, 26880], "nice": false, "zero": false},
      "axis": {"orient": "top", "values": [0,4000,8000,12000,16000,20000,24000], "labels": false, "title": null}},
     "y": {"field": "p", "type": "quantitative", "scale": {"domain": [0, 2100], "reverse": true, "nice": false, "zero": false},
      "axis": {"orient": "right", "values": [0,200,400,600,800,1000,1200,1400,1600,1800,2000], "labels": false, "title": null}}
    }}
  ],
  "resolve": {"axis": {"x": "independent", "y": "independent"}}
 }
]
}
